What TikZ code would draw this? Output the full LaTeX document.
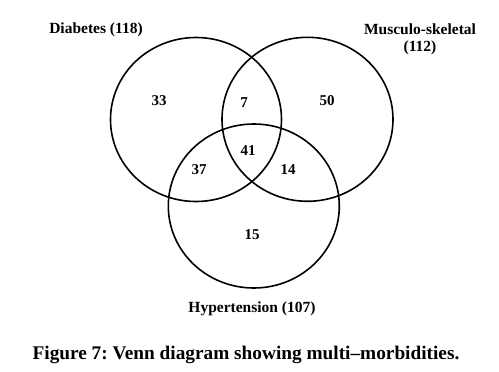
\documentclass[tikz,border=0pt]{standalone}
\usepackage{fontspec}
\setmainfont{Liberation Serif}
\usetikzlibrary{shapes.geometric}
\frenchspacing

\begin{document}
\begin{tikzpicture}[
    x=1pt, y=-1pt,
    set/.style={draw, ellipse, line width=1.6pt, minimum width=171pt, minimum height=164pt, inner sep=0pt},
    count/.style={font=\fontsize{15}{17}\selectfont\bfseries},
    setlabel/.style={font=\fontsize{15.5}{17}\selectfont\bfseries, align=center},
    caption/.style={font=\fontsize{19.3}{21}\selectfont\bfseries}
  ]
    \useasboundingbox (0,0) rectangle (499,372);
    % the three sets
    \node[set] (diabetes) at (196,119.5) {};
    \node[set] (musculo) at (307.5,119.3) {};
    \node[set] (hyper) at (253.8,206) {};
    % set names
    \node[setlabel] (diabName) at (96,30) {Diabetes (118)};
    \node[setlabel] (musculoName) at (420,39) {Musculo-skeletal\\(112)};
    \node[setlabel] (hyperName) at (252,309) {Hypertension (107)};
    % region counts
    \node[count] (onlyD) at (159,101) {33};
    \node[count] (dm) at (244,102.7) {7};
    \node[count] (onlyM) at (327,101) {50};
    \node[count] (dmh) at (248,151) {41};
    \node[count] (dh) at (199,170) {37};
    \node[count] (mh) at (288,170) {14};
    \node[count] (onlyH) at (252,235) {15};
    % caption
    \node[caption] (fig) at (246,355) {Figure 7: Venn diagram showing multi–morbidities.};
  \end{tikzpicture}
\end{document}
